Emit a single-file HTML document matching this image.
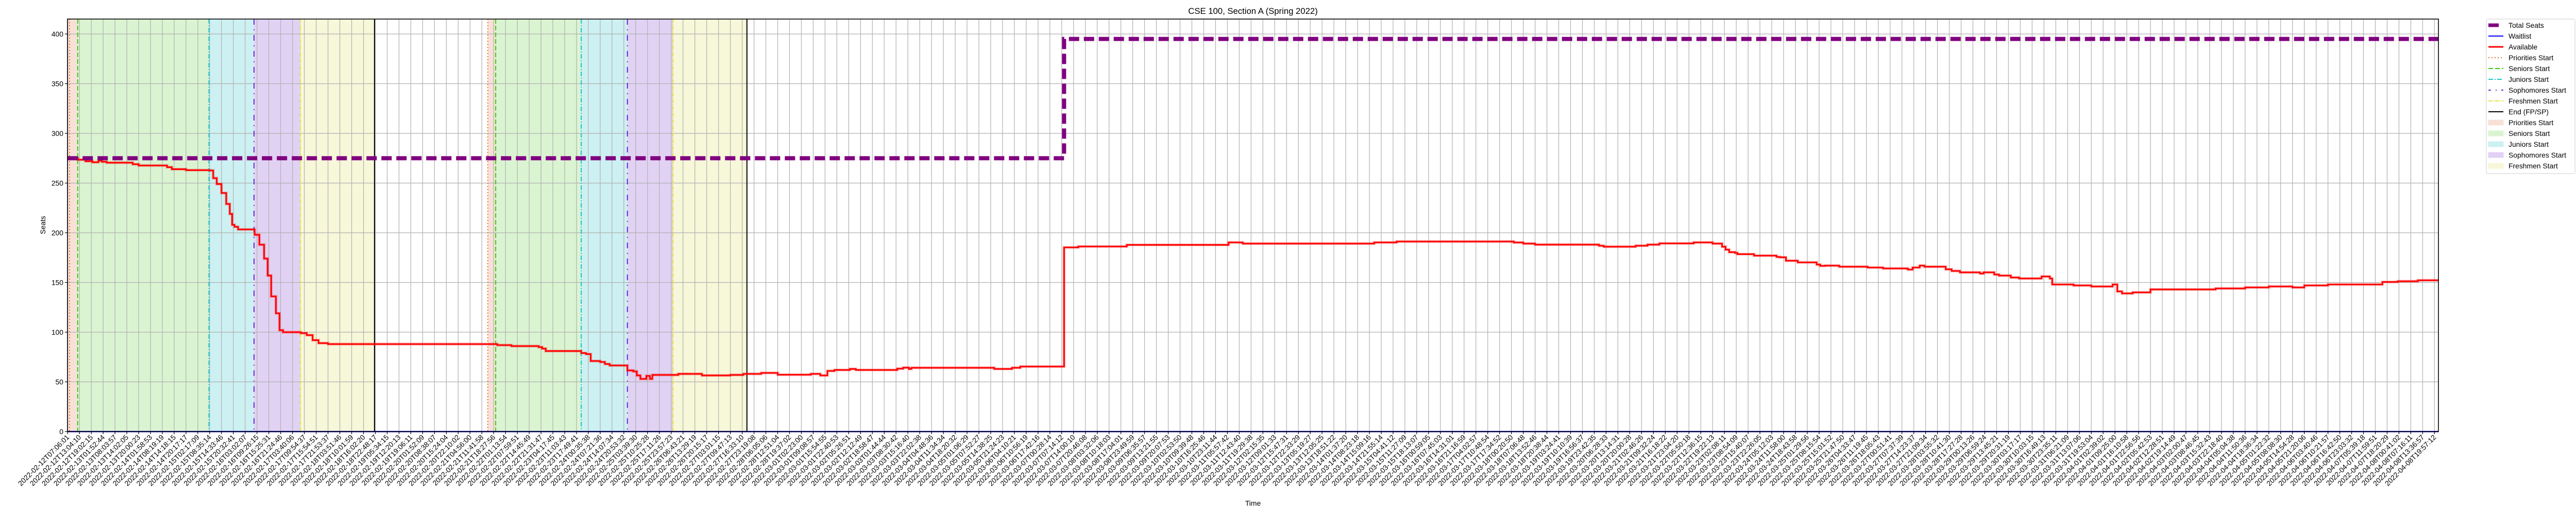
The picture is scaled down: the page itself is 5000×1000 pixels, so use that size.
<!DOCTYPE html>
<html><head><meta charset="utf-8"><style>
html,body{margin:0;padding:0;background:#fff;}
svg{display:block;font-family:"Liberation Sans","DejaVu Sans",sans-serif;}
</style></head><body>
<svg id="chart" xmlns="http://www.w3.org/2000/svg" width="5000" height="1000" viewBox="0 0 5000 1000">
<rect x="0" y="0" width="5000" height="1000" fill="#fff"/>
<g id="regions"></g>
<g id="grid"></g>
<g id="vlines"></g>
<g id="series"></g>
<rect x="131" y="37" width="4602" height="801" fill="none" stroke="#000" stroke-width="1.6"/>
<g id="axes"></g>
<text x="2432" y="27" font-size="16.7" text-anchor="middle">CSE 100, Section A (Spring 2022)</text>
<text x="2432" y="982" font-size="13.9" text-anchor="middle">Time</text>
<text x="0" y="0" font-size="13.9" text-anchor="middle" transform="translate(88,437) rotate(-90)">Seats</text>
<g id="legend"></g>
</svg>
<script>
// ---- data ----
const availX=[0,0.87,1.5,2.1,2.6,2.9,3.3,5.5,6.0,8.4,8.8,10.0,12.0,12.3,12.6,13.0,13.4,13.7,13.9,14.1,14.4,15.8,16.2,16.6,16.9,17.2,17.6,17.9,18.2,19.7,20.2,20.7,21.2,22,
36.3,37.5,39.8,40.1,40.4,43.4,43.8,44.2,45.0,45.4,45.8,47.3,47.8,48.1,48.4,48.9,49.2,49.4,51.6,53.6,56.0,57.1,58.6,60.0,62.8,63.6,64.2,64.8,66.1,66.6,70.1,70.6,71.1,71.3,78.3,79.8,80.5,
84.2,85.4,89.5,98.1,99.3,110.4,112.3,122.2,123,124,129.4,129.8,132.5,133.5,134.5,137.4,139,139.8,140.1,140.4,140.9,141.1,142.5,144.4,144.7,145.2,146.2,147.8,148.1,148.5,149.7,152.1,153.4,155.5,155.9,156.5,156.9,158.7,159.2,159.9,161.6,161.9,162.8,163.2,164.2,164.9,166.8,167.5,167.7,169.5,171,172.8,173.2,173.6,174.5,176,181.5,184,186,188,189,191,195.6,196.9,198.6];
const availY=[275,273.5,272,271,272.5,271.5,270.5,269,267.7,266,264,263,262.7,255,249,240,229,219,208,206,203.4,198,188,174,157,136,119,102,100,99,97,92,89,88,
87,86,85,83.5,81,79,78,71,70,68,66.5,61.5,60.5,56.5,53,56,53,57,58,56.5,57,58,59,57.2,58,56.5,61,62,63,62,63.3,64.3,63,64.2,63,64.2,65.4,
185.3,186.2,187.8,190.3,189.1,190.3,191.2,190.2,189.1,188.1,187,186,187,188.1,189.3,190.3,189.1,186,183,180.5,179.7,178.5,177,175.7,175.3,171.9,170.2,168,166.7,167,165.9,165,164.1,163,165,167,165.9,163.3,161.6,160.2,159,160.2,158,156.9,155,154,156,154,148,147,146,148,141,139,140,143,144,145,146,145,147,148,150.5,151.2,152.2];
const totalX=[0,84.2];
const totalY=[275,395];
const waitX=[0];
const waitY=[0];
const phaseNames=["Priorities Start","Seniors Start","Juniors Start","Sophomores Start","Freshmen Start","End (FP/SP)"];
const cycle1=[-0.01,0.85,11.94,15.75,19.66,25.93];
const cycle1Line=[0.16,0.85,11.94,15.75,19.66,25.93];
const cycle2=[35.5,36.17,43.4,47.3,51.15,57.4];
const yTicks=[0,50,100,150,200,250,300,350,400];
const firstLabels=["2022-02-12T07:06:01","2022-02-12T13:04:10","2022-02-12T19:02:15","2022-02-13T01:52:44","2022-02-13T08:03:57","2022-02-13T14:02:05","2022-02-13T20:00:23","2022-02-14T01:58:53","2022-02-14T08:19:19","2022-02-14T14:18:15","2022-02-14T20:17:17","2022-02-15T02:17:09","2022-02-15T08:35:14","2022-02-15T14:33:46","2022-02-15T20:32:41","2022-02-16T03:02:07","2022-02-16T09:26:15","2022-02-16T15:25:31","2022-02-16T21:24:46","2022-02-17T03:40:06","2022-02-17T09:54:37","2022-02-17T15:54:51","2022-02-17T21:53:37","2022-02-18T03:51:46","2022-02-18T10:01:59","2022-02-18T16:02:20"];
const lastLabels=["2022-04-05T14:54:28","2022-04-05T21:20:06","2022-04-06T03:40:46","2022-04-06T10:21:57","2022-04-06T16:42:50","2022-04-06T23:03:32","2022-04-07T05:39:18","2022-04-07T11:59:51","2022-04-07T18:20:29","2022-04-08T00:41:02","2022-04-08T07:16:11","2022-04-08T13:36:57","2022-04-08T19:57:12"];
const tickCount=201;

// ---- scales ----
const L=131.3, STEP=22.97, XMAX=200.33, YB=838, YK=1.93;
const sx=i=>L+i*STEP;
const sy=v=>YB-v*YK;
const NS="http://www.w3.org/2000/svg";
function mk(tag,attrs,parent){const e=document.createElementNS(NS,tag);for(const k in attrs)e.setAttribute(k,attrs[k]);parent.appendChild(e);return e;}

// tick labels
const tickLabels=[];
(function(){
  const t0=Date.parse(firstLabels[firstLabels.length-1]+"Z"), i0=firstLabels.length-1;
  const t1=Date.parse(lastLabels[0]+"Z"), i1=tickCount-lastLabels.length;
  for(let i=0;i<tickCount;i++){
    if(i<=i0) tickLabels.push(firstLabels[i]);
    else if(i>=i1) tickLabels.push(lastLabels[i-i1]);
    else {const t=t0+(t1-t0)*(i-i0)/(i1-i0);tickLabels.push(new Date(t).toISOString().slice(0,19));}
  }
})();

// regions
const regColors=["#f7e1d7","#daf4d2","#cdf0f2","#e1d2f4","#f7f7d9"];
const lineColors=["#ee6a33","#3ccc14","#14c8cc","#6a28dd","#e0e040","#000"];
const dashes=["2,4","9,4","9,3,2,3","11,9,2,9","7,2,2,2","none"];
const rg=document.getElementById('regions');
[cycle1,cycle2].forEach((c,ci)=>{
  for(let k=0;k<5;k++){
    const r=mk('rect',{x:sx(c[k]),y:37,width:sx(c[k+1])-sx(c[k]),height:801,fill:regColors[k]},rg);
    
    
  }
});
// grid
const gg=document.getElementById('grid');
for(let i=0;i<tickCount;i++){
  const l=mk('line',{x1:sx(i),x2:sx(i),y1:37,y2:838,stroke:"#b0b0b0","stroke-width":1.2},gg);
  
  
}
yTicks.forEach(v=>{
  const l=mk('line',{x1:131,x2:4733,y1:sy(v),y2:sy(v),stroke:"#b0b0b0","stroke-width":1.2},gg);
  
  
});
// phase lines
const vg=document.getElementById('vlines');
[cycle1Line,cycle2].forEach((c,ci)=>{
  for(let k=0;k<6;k++){
    const a={x1:sx(c[k]),x2:sx(c[k]),y1:37,y2:838,stroke:lineColors[k],"stroke-width":2};
    if(dashes[k]!="none")a["stroke-dasharray"]=dashes[k];
    const l=mk('line',a,vg);
    
    
  }
});
// series
function stepPath(xs,ys,xEnd){
  let d="M"+sx(xs[0])+","+sy(ys[0]);
  for(let i=1;i<xs.length;i++){d+=" L"+sx(xs[i])+","+sy(ys[i-1])+" L"+sx(xs[i])+","+sy(ys[i]);}
  d+=" L"+sx(xEnd)+","+sy(ys[ys.length-1]);
  return d;
}
const sg=document.getElementById('series');
const wl=mk('path',{d:"M"+sx(-0.01)+","+sy(waitY[0])+" L"+sx(XMAX)+","+sy(waitY[0]),stroke:"#0000ff","stroke-width":2.5,fill:"none"},sg);


const ah=mk('path',{d:stepPath(availX,availY,XMAX),stroke:"#ff0000","stroke-opacity":0.2,"stroke-width":6,fill:"none"},sg);


const al=mk('path',{d:stepPath(availX,availY,XMAX),stroke:"#ff0000","stroke-width":3,fill:"none","stroke-linejoin":"miter"},sg);


const tl=mk('path',{d:stepPath(totalX,totalY,XMAX),stroke:"#800080","stroke-width":8,fill:"none","stroke-dasharray":"20,9"},sg);


// axes ticks
const ag=document.getElementById('axes');
yTicks.forEach(v=>{
  const t=mk('line',{x1:126,x2:131,y1:sy(v),y2:sy(v),stroke:"#000","stroke-width":1.2},ag);
  
  
  const tx=mk('text',{x:123,y:sy(v)+5,"font-size":13.9,"text-anchor":"end"},ag);
  tx.textContent=v;
  
  
});
for(let i=0;i<tickCount;i++){
  const t=mk('line',{x1:sx(i),x2:sx(i),y1:838,y2:843,stroke:"#000","stroke-width":1.2},ag);
  
  
  const tx=mk('text',{x:0,y:0,"font-size":13.9,"text-anchor":"end",transform:"translate("+(sx(i)+4)+",850) rotate(-45)"},ag);
  tx.textContent=tickLabels[i];
  
  
}
// legend
const lg=document.getElementById('legend');
mk('rect',{x:4826,y:37,width:172,height:300,rx:3,fill:"#fff",stroke:"#d8d8d8","stroke-width":1.2},lg);
const legItems=[
 {n:"Total Seats",t:"line",c:"#800080",w:7,d:"20,9"},
 {n:"Waitlist",t:"line",c:"#0000ff",w:2},
 {n:"Available",t:"line",c:"#ff0000",w:3},
 {n:"Priorities Start",t:"line",c:lineColors[0],w:2,d:dashes[0]},
 {n:"Seniors Start",t:"line",c:lineColors[1],w:2,d:dashes[1]},
 {n:"Juniors Start",t:"line",c:lineColors[2],w:2,d:dashes[2]},
 {n:"Sophomores Start",t:"line",c:lineColors[3],w:2,d:"5,9,2,9"},
 {n:"Freshmen Start",t:"line",c:lineColors[4],w:2,d:dashes[4]},
 {n:"End (FP/SP)",t:"line",c:"#000",w:2},
 {n:"Priorities Start",t:"patch",c:regColors[0]},
 {n:"Seniors Start",t:"patch",c:regColors[1]},
 {n:"Juniors Start",t:"patch",c:regColors[2]},
 {n:"Sophomores Start",t:"patch",c:regColors[3]},
 {n:"Freshmen Start",t:"patch",c:regColors[4]}];
legItems.forEach((it,k)=>{
  const y=49+k*21;
  const g=mk('g',{},lg);
  
  
  if(it.t=="line"){
    const a={x1:4830,x2:4859,y1:y,y2:y,stroke:it.c,"stroke-width":it.w};
    if(it.d)a["stroke-dasharray"]=it.d;
    mk('line',a,g);
  } else {
    mk('rect',{x:4830,y:y-5,width:29,height:10,fill:it.c,stroke:it.c},g);
  }
  const tx=mk('text',{x:4869,y:y+5,"font-size":13.9},g);
  tx.textContent=it.n;
});
</script>
</body></html>
